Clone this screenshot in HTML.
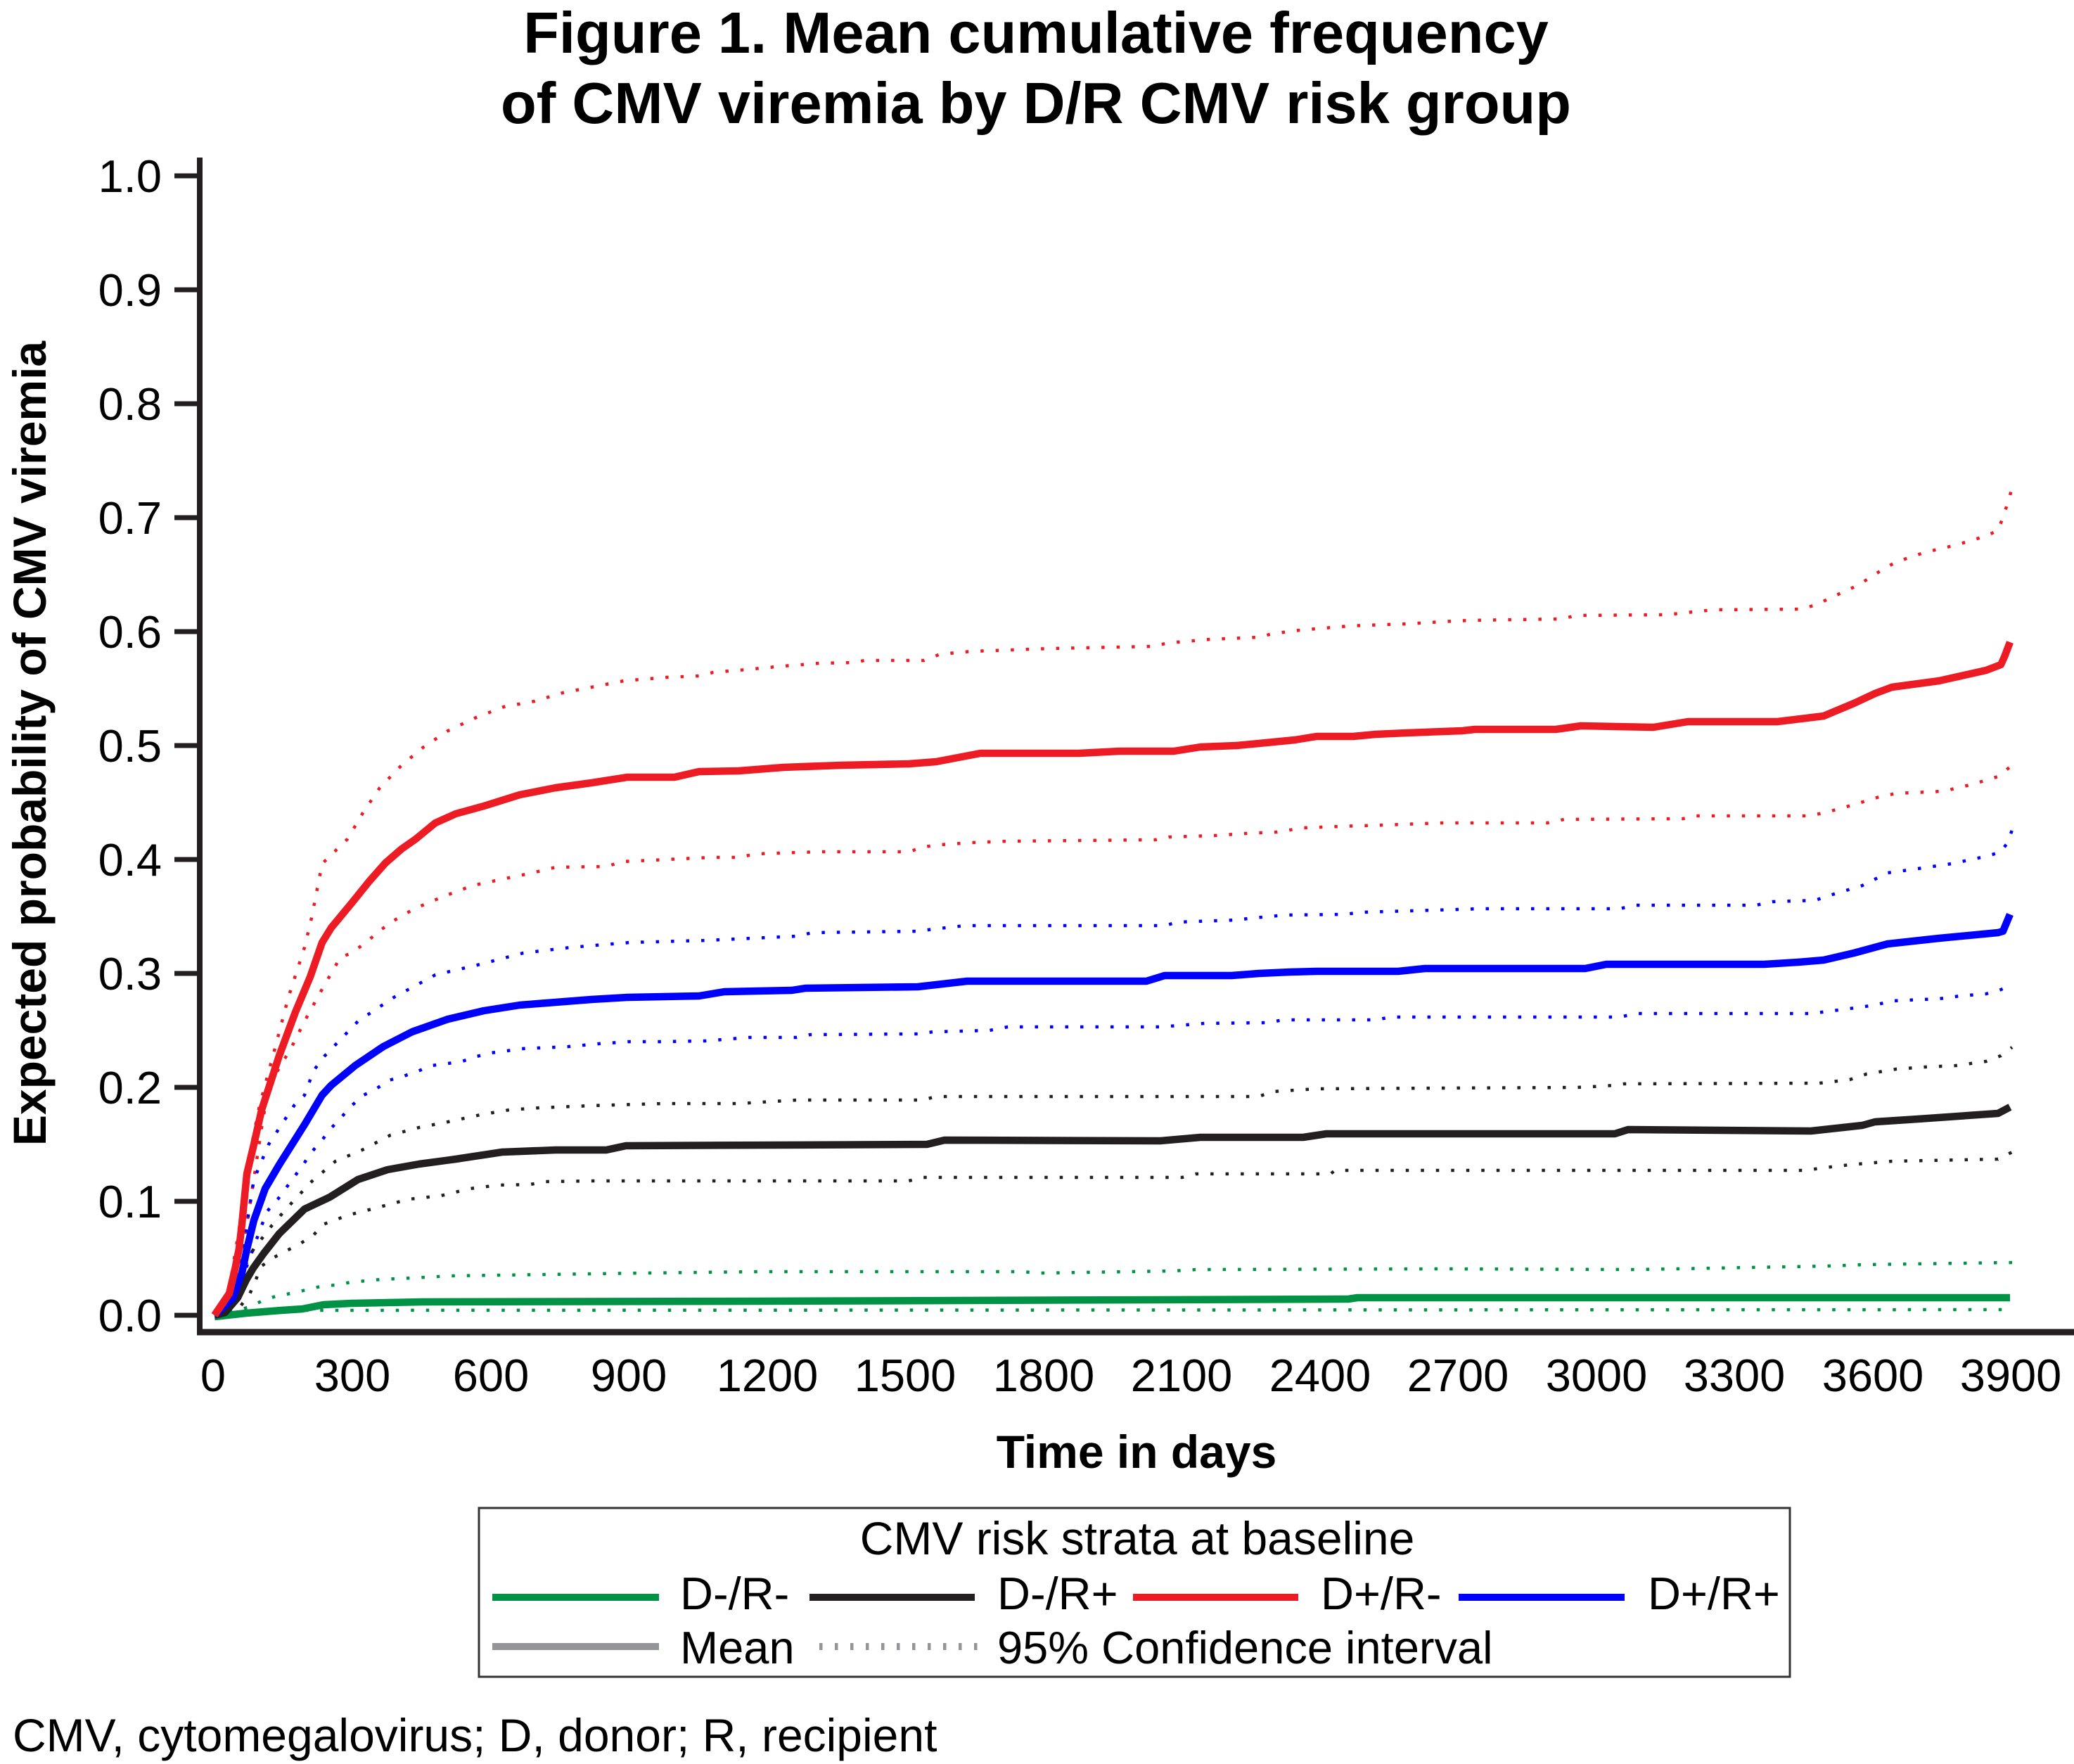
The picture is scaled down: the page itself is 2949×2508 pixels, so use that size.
<!DOCTYPE html>
<html>
<head>
<meta charset="utf-8">
<style>
html,body{margin:0;padding:0;background:#fff;}
svg{display:block;}
text{font-family:"Liberation Sans",Arial,sans-serif;fill:#000;}
.b{font-weight:bold;}
</style>
</head>
<body>
<svg width="2949" height="2508" viewBox="0 0 2949 2508" xmlns="http://www.w3.org/2000/svg">
<rect x="0" y="0" width="2949" height="2508" fill="#fff"/>

<!-- Title -->
<text class="b" x="1473" y="75" font-size="83" text-anchor="middle">Figure 1. Mean cumulative frequency</text>
<text class="b" x="1473" y="175" font-size="83" text-anchor="middle">of CMV viremia by D/R CMV risk group</text>

<!-- Y axis label -->
<text class="b" font-size="66" text-anchor="middle" transform="translate(65,1057) rotate(-90)">Expected probability of CMV viremia</text>

<!-- Axes -->
<g stroke="#231F20" fill="none">
<line x1="284" y1="224" x2="284" y2="1898" stroke-width="8"/>
<line x1="280" y1="1894" x2="2949" y2="1894" stroke-width="9"/>
<g stroke-width="7">
<line x1="248" y1="250" x2="284" y2="250"/>
<line x1="248" y1="412" x2="284" y2="412"/>
<line x1="248" y1="574" x2="284" y2="574"/>
<line x1="248" y1="736" x2="284" y2="736"/>
<line x1="248" y1="898" x2="284" y2="898"/>
<line x1="248" y1="1060" x2="284" y2="1060"/>
<line x1="248" y1="1222" x2="284" y2="1222"/>
<line x1="248" y1="1384" x2="284" y2="1384"/>
<line x1="248" y1="1546" x2="284" y2="1546"/>
<line x1="248" y1="1708" x2="284" y2="1708"/>
<line x1="248" y1="1870" x2="284" y2="1870"/>
</g>
</g>

<!-- Y tick labels -->
<g font-size="65" text-anchor="end">
<text x="230" y="273">1.0</text>
<text x="230" y="435">0.9</text>
<text x="230" y="597">0.8</text>
<text x="230" y="759">0.7</text>
<text x="230" y="921">0.6</text>
<text x="230" y="1083">0.5</text>
<text x="230" y="1245">0.4</text>
<text x="230" y="1407">0.3</text>
<text x="230" y="1569">0.2</text>
<text x="230" y="1731">0.1</text>
<text x="230" y="1893">0.0</text>
</g>

<!-- X tick labels -->
<g font-size="65" text-anchor="middle">
<text x="303" y="1978">0</text>
<text x="501" y="1978">300</text>
<text x="698" y="1978">600</text>
<text x="894" y="1978">900</text>
<text x="1091" y="1978">1200</text>
<text x="1287" y="1978">1500</text>
<text x="1484" y="1978">1800</text>
<text x="1680" y="1978">2100</text>
<text x="1877" y="1978">2400</text>
<text x="2073" y="1978">2700</text>
<text x="2270" y="1978">3000</text>
<text x="2466" y="1978">3300</text>
<text x="2663" y="1978">3600</text>
<text x="2859" y="1978">3900</text>
</g>

<text class="b" x="1616" y="2087" font-size="66" text-anchor="middle">Time in days</text>

<!-- Confidence intervals (dotted) -->
<g fill="none" stroke-width="4.5" stroke-dasharray="4.5 17" stroke-linecap="butt">
<!-- red upper -->
<polyline stroke="#ED1C24" points="305,1870 325,1838 346,1711 355,1642 369,1572 390,1494 410,1418 433,1347 443,1305 458,1228 494,1193 517,1154 540,1120 571,1088 601,1063 637,1039 675,1021 716,1005 760,997 800,985 841,977 887,968 948,963 994,961 1014,956 1050,953 1114,947 1165,943 1216,942 1229,939 1314,939 1337,930 1382,926 1496,922 1637,919 1662,914 1720,909 1790,906 1809,901 1848,896 1918,890 1969,888 2000,887 2067,883 2091,882 2218,880 2243,875 2370,874 2436,867 2563,866 2584,859 2605,849 2642,832 2678,809 2696,799 2738,785 2781,775 2824,762 2841,754 2850,730 2861,694"/>
<!-- red lower -->
<polyline stroke="#ED1C24" points="305,1870 331,1846 346,1773 361,1676 372,1603 382,1544 415,1488 433,1452 456,1410 484,1361 500,1355 520,1340 553,1313 589,1292 632,1274 672,1259 714,1250 757,1241 790,1233 862,1232 885,1225 989,1220 1014,1219 1050,1219 1075,1214 1165,1211 1292,1211 1314,1204 1337,1201 1382,1198 1433,1196 1643,1194 1662,1190 1726,1188 1771,1185 1815,1183 1853,1177 1904,1175 1969,1173 2050,1170 2200,1170 2224,1165 2393,1164 2411,1160 2569,1160 2593,1156 2636,1144 2672,1133 2696,1128 2763,1125 2805,1115 2841,1104 2861,1088"/>
<!-- blue upper -->
<polyline stroke="#0000FF" points="305,1870 331,1838 346,1773 361,1677 382,1627 418,1572 433,1557 446,1522 461,1502 509,1452 560,1418 619,1386 683,1371 744,1355 811,1347 895,1340 1005,1337 1069,1334 1133,1331 1155,1326 1305,1324 1327,1321 1372,1316 1656,1316 1675,1311 1758,1308 1783,1305 1828,1301 1911,1300 1937,1297 2106,1292 2303,1292 2324,1287 2497,1287 2520,1282 2581,1280 2605,1272 2648,1259 2684,1241 2727,1235 2775,1228 2817,1219 2844,1212 2854,1199 2861,1180"/>
<!-- blue lower -->
<polyline stroke="#0000FF" points="305,1870 331,1854 351,1800 371,1745 380,1722 395,1705 431,1656 443,1638 458,1621 469,1606 484,1590 500,1572 517,1557 535,1548 553,1536 574,1530 594,1523 614,1515 637,1512 657,1509 678,1502 698,1497 721,1494 742,1491 788,1489 808,1488 851,1484 895,1481 938,1481 1002,1480 1065,1475 1133,1475 1152,1471 1305,1470 1327,1467 1407,1465 1433,1460 1650,1460 1713,1455 1802,1454 1825,1450 1956,1450 1978,1446 2303,1446 2327,1441 2575,1441 2630,1434 2666,1429 2690,1423 2757,1420 2787,1416 2824,1413 2845,1407 2861,1400"/>
<!-- black upper -->
<polyline stroke="#231F20" points="305,1870 331,1846 346,1805 361,1775 373,1760 386,1743 399,1728 415,1710 443,1680 477,1651 515,1635 555,1614 596,1603 637,1595 683,1585 724,1578 767,1575 841,1572 943,1569 1050,1569 1133,1564 1312,1564 1331,1559 1790,1559 1809,1552 1872,1548 2243,1546 2284,1544 2309,1541 2587,1540 2630,1535 2654,1527 2696,1520 2738,1517 2781,1515 2824,1509 2845,1501 2861,1489"/>
<!-- black lower -->
<polyline stroke="#231F20" points="305,1870 335,1866 355,1840 372,1800 389,1788 408,1778 427,1768 445,1757 459,1741 494,1728 540,1716 581,1705 627,1700 668,1690 708,1685 754,1684 775,1680 841,1679 1292,1679 1311,1674 1681,1674 1701,1669 1892,1669 1898,1664 2569,1664 2587,1661 2630,1656 2690,1651 2841,1648 2861,1638"/>
<!-- green upper -->
<polyline stroke="#009245" points="305,1870 333,1864 352,1859 372,1850 392,1843 413,1839 435,1834 456,1829 477,1827 499,1823 521,1821 542,1819 586,1817 640,1814 913,1810 1080,1808 1452,1808 1480,1810 1669,1807 1701,1805 2050,1804 2327,1805 2600,1800 2650,1798 2861,1795"/>
<!-- green lower -->
<polyline stroke="#009245" points="305,1870 333,1867 397,1864 420,1863 2861,1862"/>
</g>

<!-- Means -->
<g fill="none" stroke-width="10.5" stroke-linejoin="round" stroke-linecap="butt">
<!-- green -->
<polyline stroke="#009245" points="305,1872 350,1867 400,1863 430,1861 445,1858 460,1855 500,1853 600,1851 1080,1850 1917,1847 1930,1845 2858,1845"/>
<!-- black -->
<polyline stroke="#231F20" points="305,1870 320,1866 338,1845 350,1820 360,1803 375,1782 397,1754 433,1719 469,1702 509,1677 551,1663 596,1655 648,1648 714,1638 790,1635 862,1635 890,1629 1318,1627 1343,1621 1650,1622 1707,1617 1853,1617 1886,1612 2296,1612 2315,1606 2575,1608 2648,1600 2666,1595 2727,1591 2841,1583 2858,1574"/>
<!-- blue -->
<polyline stroke="#0000FF" points="305,1870 331,1846 344,1810 351,1776 361,1735 377,1690 397,1656 433,1599 458,1557 471,1543 505,1515 545,1488 586,1467 637,1449 688,1437 739,1429 790,1425 841,1421 892,1418 994,1416 1030,1410 1126,1408 1145,1405 1305,1403 1375,1395 1630,1395 1656,1387 1751,1387 1790,1384 1834,1382 1872,1381 1988,1381 2026,1377 2254,1377 2284,1371 2508,1371 2557,1368 2593,1365 2636,1355 2684,1342 2757,1334 2841,1326 2848,1324 2858,1300"/>
<!-- red -->
<polyline stroke="#ED1C24" points="305,1870 326,1839 334,1805 340,1775 344,1740 351,1669 361,1627 372,1578 397,1501 420,1439 441,1389 458,1340 471,1319 500,1284 525,1253 548,1227 571,1207 591,1193 619,1170 648,1157 688,1146 739,1130 790,1120 841,1113 892,1105 959,1105 994,1097 1050,1096 1114,1091 1196,1088 1292,1086 1331,1083 1394,1071 1534,1071 1592,1068 1669,1068 1707,1062 1758,1060 1790,1057 1841,1052 1872,1047 1924,1047 1956,1044 2000,1042 2079,1039 2097,1037 2212,1037 2248,1032 2351,1034 2400,1026 2527,1026 2593,1018 2636,1000 2666,986 2690,977 2757,968 2824,953 2845,945 2850,934 2858,913"/>
</g>

<!-- Legend -->
<rect x="681" y="2144" width="1864" height="240" fill="none" stroke="#333" stroke-width="3"/>
<text x="1617" y="2210" font-size="66" text-anchor="middle">CMV risk strata at baseline</text>
<g stroke-width="10" fill="none">
<line x1="700" y1="2271" x2="937" y2="2271" stroke="#009245"/>
<line x1="1151" y1="2271" x2="1386" y2="2271" stroke="#231F20"/>
<line x1="1611" y1="2271" x2="1846" y2="2271" stroke="#ED1C24"/>
<line x1="2074" y1="2271" x2="2310" y2="2271" stroke="#0000FF"/>
<line x1="700" y1="2341" x2="937" y2="2341" stroke="#939598"/>
<line x1="1165" y1="2341" x2="1390" y2="2341" stroke="#939598" stroke-dasharray="4.5 17.5"/>
</g>
<g font-size="65">
<text x="967" y="2288">D-/R-</text>
<text x="1418" y="2288">D-/R+</text>
<text x="1878" y="2288">D+/R-</text>
<text x="2343" y="2288">D+/R+</text>
<text x="967" y="2365">Mean</text>
<text x="1418" y="2365">95% Confidence interval</text>
</g>

<!-- Footnote -->
<text x="18" y="2490" font-size="66">CMV, cytomegalovirus; D, donor; R, recipient</text>
</svg>
</body>
</html>
